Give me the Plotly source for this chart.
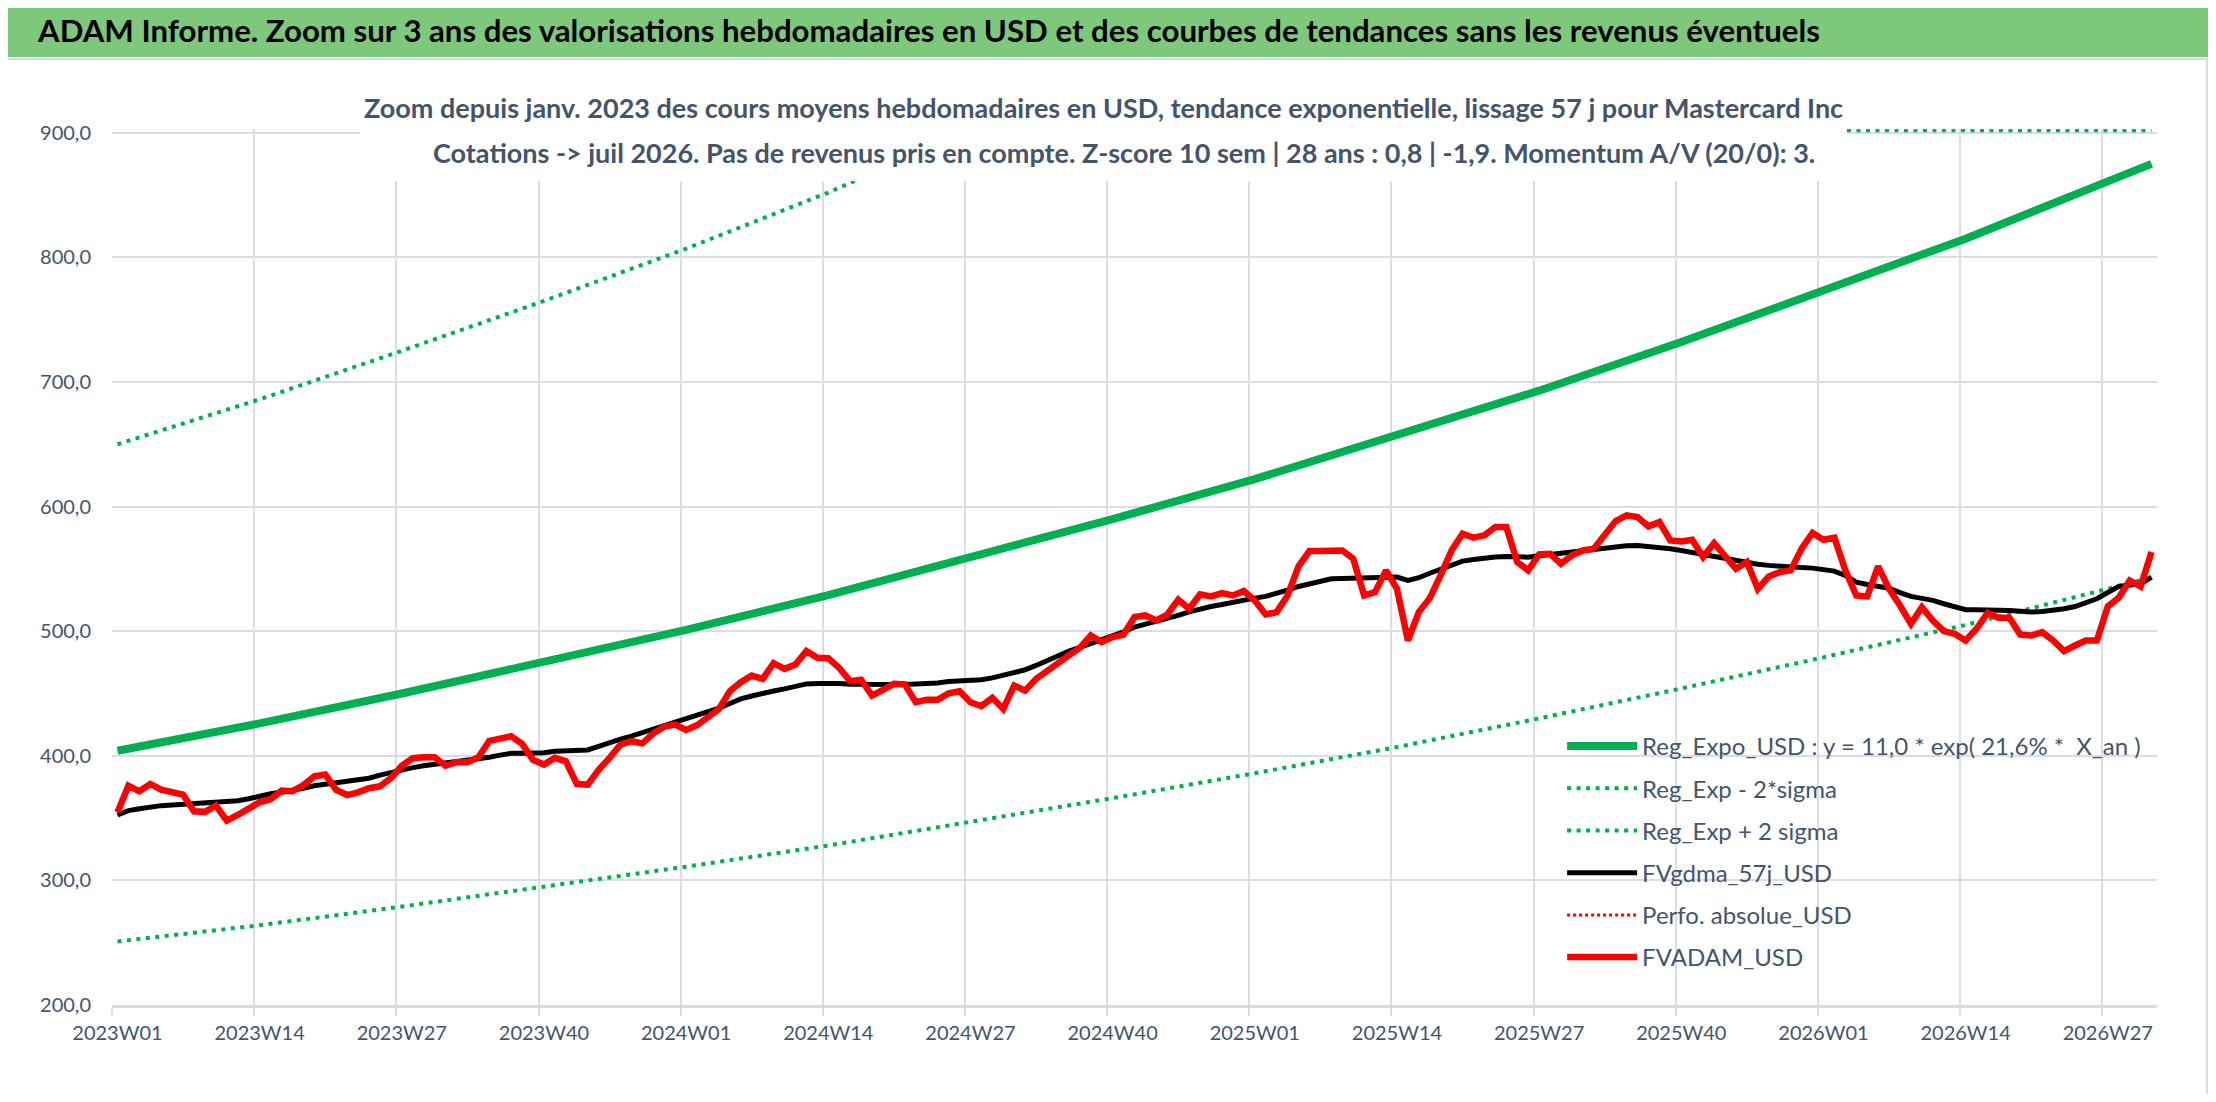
import plotly.graph_objects as go

# Weekly categories, 2023W01 -> 2026W31
weeks = [f"{y}W{w:02d}" for y in (2023, 2024, 2025) for w in range(1, 53)]
weeks += [f"2026W{w:02d}" for w in range(1, 32)]

# FVADAM_USD (weekly average price, red)
fvadam_usd = [
    354.6, 376, 371.5, 377.4, 372.8, 371, 368.8, 355.4, 355, 360,
    348, 352.5, 358, 362.7, 365, 372, 371.5, 376.6, 383.5, 385,
    372.6, 368.5, 370.7, 374, 375.5, 382, 392, 398, 398.8, 398.8,
    392, 394.8, 394.8, 398.8, 412, 414, 415.7, 409.5, 396.7, 393,
    398.3, 395.6, 377.4, 376.9, 388.7, 398.3, 409, 411.7, 410, 418,
    423.4, 425, 420.7, 424.5, 430.4, 437.6, 451.8, 459, 464.4, 461.7,
    474.3, 469.8, 473.3, 484, 478.6, 478.3, 470.5, 459.9, 461, 448.3,
    452.9, 457.7, 457.2, 443, 444.9, 444.9, 450.2, 451.8, 443, 439.8,
    446.5, 437.6, 456.4, 452.3, 461.7, 468.4, 475.1, 480.5, 486.6, 496.5,
    491.2, 495.2, 497.3, 511.3, 512.6, 508.6, 513.4, 525.2, 518, 529.5,
    527.9, 530.6, 528.7, 532.2, 524.7, 513.4, 515.3, 528.7, 552, 564.3,
    564.3, 564.8, 564.8, 558.1, 528.7, 531.4, 548.8, 534, 492.5, 515.3,
    526.5, 545, 564.8, 578.2, 575, 576.9, 583.6, 583.6, 555.5, 548.8,
    561.6, 562.1, 554.1, 560.8, 564.8, 566.2, 578.2, 588.4, 592.9, 591.6,
    584.1, 587.6, 572.8, 572, 573.4, 559.5, 570.7, 560, 550.1, 555.5,
    534, 543.9, 547.4, 548.8, 566.2, 578.8, 573.4, 575, 548.8, 528.7,
    527.9, 552, 534, 520.6, 505.9, 519.3, 508.6, 500, 497.9, 492.5,
    501.9, 514.5, 510.7, 510.7, 497.3, 496.5, 499.2, 492.5, 484, 488.5,
    492.5, 492.5, 519.8, 526.8, 540.7, 535.9, 563.5,
]

# FVgdma_57j_USD (57 day smoothing, black)
fvgdma_57j_usd = [
    352.5, 356, 357.5, 359, 360, 360.5, 361, 361.5, 362, 363,
    363.5, 364, 365.5, 368, 369.5, 370.7, 372, 374, 376, 377,
    378, 379, 380, 382, 384.5, 386.7, 388.5, 390.5, 392, 393,
    394, 395.2, 396.5, 397.7, 398.8, 400.5, 402, 402, 402, 402.5,
    403.6, 404, 404.3, 404.7, 407.5, 410.9, 413.3, 415.7, 418.5, 421.6,
    424.3, 427, 429.7, 432.3, 435.3, 438.2, 442, 445.7, 448, 450.3,
    452, 453.7, 455.7, 457.7, 458, 458.2, 458, 457.5, 457.2, 457.2,
    457.2, 457.2, 457.2, 457.4, 457.7, 458.5, 459.6, 459.8, 459.9, 461,
    462.5, 464.4, 466.5, 469, 472.5, 476.5, 480, 484, 487, 489.9,
    493, 495.8, 499.5, 503.3, 505.5, 507.3, 510, 512.6, 515.5, 518,
    519.8, 521.4, 523.3, 525.2, 526.5, 527.9, 530, 533, 535.9, 538,
    539.4, 542, 542.3, 542.6, 542.8, 542.9, 543.2, 543.4, 540.7, 542.9,
    546.5, 550, 553, 556.2, 557.5, 558.9, 559.5, 560, 559.7, 559.4,
    560.5, 561.6, 562.5, 563.5, 565, 566.2, 567.3, 568.3, 568.6, 568.8,
    568.2, 567.5, 566.2, 564.8, 563.2, 561.6, 560, 558.1, 556.3, 554.6,
    553.7, 552.8, 552, 551.4, 551, 550.6, 549.4, 548.2, 544.7, 539.4,
    537.5, 536, 534.5, 531, 527.9, 526.3, 524.7, 522, 519.3, 517.2,
    517.2, 517.2, 517, 516.6, 516, 515.3, 515.8, 516.6, 518, 519.8,
    522.5, 526, 531, 535.9, 537, 538, 543.4,
]

# Trend curves read at every 13th week plus the last week
trend_weeks = weeks[::13] + [weeks[-1]]
reg_expo_usd = [404, 426, 450, 475, 501, 529, 559, 590, 622, 657, 693, 732, 773, 815, 861, 875]
reg_minus_2sigma = [251, 264, 279, 295, 311, 328, 347, 366, 386, 407, 430, 454, 479, 505, 534, 543]
# upper band runs off the top of the axis and is drawn along it
reg_plus_2sigma = [650, 686, 725, 765, 807, 852, 902, 902, 902, 902, 902, 902, 902, 902, 902, 902]

# no visible points for this series
perfo_absolue_usd = [None]

FONT = "Lato, Liberation Sans, sans-serif"
GREEN = "#00B050"
GRID = "#D9DEE6"
TXT = "#44546A"
DOTS = "4px,5.5px"

fig = go.Figure()
fig.add_trace(go.Scatter(x=trend_weeks, y=reg_expo_usd, mode="lines",
                         name="Reg_Expo_USD : y = 11,0 * exp( 21,6% *  X_an )",
                         legendgroup="a", line=dict(color=GREEN, width=8)))
fig.add_trace(go.Scatter(x=trend_weeks, y=reg_minus_2sigma, mode="lines",
                         name="Reg_Exp - 2*sigma", legendgroup="b",
                         line=dict(color=GREEN, width=4, dash=DOTS)))
fig.add_trace(go.Scatter(x=trend_weeks, y=reg_plus_2sigma, mode="lines",
                         name="Reg_Exp + 2 sigma", legendgroup="c",
                         line=dict(color=GREEN, width=4, dash=DOTS)))
fig.add_trace(go.Scatter(x=weeks, y=fvgdma_57j_usd, mode="lines",
                         name="FVgdma_57j_USD", legendgroup="d",
                         line=dict(color="#000000", width=5)))
fig.add_trace(go.Scatter(x=weeks[:1], y=perfo_absolue_usd, mode="lines",
                         name="Perfo. absolue_USD", legendgroup="e",
                         line=dict(color="#FF0000", width=3, dash="3px,3px")))
fig.add_trace(go.Scatter(x=weeks, y=fvadam_usd, mode="lines",
                         name="FVADAM_USD", legendgroup="f",
                         line=dict(color="#FF0000", width=6.5)))

shapes = [
    # green title band
    dict(type="rect", xref="paper", yref="paper", x0=-0.06, x1=1.04, y0=1.0822, y1=1.16,
         fillcolor="#7DC87B", line=dict(width=0), layer="below"),
    # chart frame
    dict(type="rect", xref="paper", yref="paper", x0=-0.0538, x1=1.0244, y0=-0.105, y1=1.0799,
         line=dict(color="#D9D9D9", width=2), layer="below"),
    # white box behind the chart title
    dict(type="rect", xref="paper", yref="paper", x0=0.1213, x1=0.8484, y0=0.9406, y1=1.0559,
         fillcolor="white", line=dict(width=0), layer="above"),
]

annotations = [
    dict(text="ADAM Informe. Zoom sur 3 ans des valorisations hebdomadaires en USD et des courbes de tendances sans les revenus éventuels",
         xref="paper", yref="paper", x=-0.0377, y=1.1130, xanchor="left", yanchor="middle",
         showarrow=False, font=dict(family=FONT, size=31.2, color="#000000", weight="bold")),
    dict(text="Zoom depuis janv. 2023 des cours moyens hebdomadaires en USD, tendance exponentielle, lissage 57 j pour Mastercard Inc",
         xref="paper", yref="paper", x=0.4846, y=1.0240, xanchor="center", yanchor="middle",
         showarrow=False, font=dict(family=FONT, size=27, color=TXT, weight="bold")),
    dict(text="Cotations -> juil 2026. Pas de revenus pris en compte. Z-score 10 sem | 28 ans : 0,8 | -1,9. Momentum A/V (20/0): 3.",
         xref="paper", yref="paper", x=0.4949, y=0.9737, xanchor="center", yanchor="middle",
         showarrow=False, font=dict(family=FONT, size=27, color=TXT, weight="bold")),
]

# the page body adds an 8px offset, so the figure is 16px smaller
fig.update_layout(
    width=2200, height=1086, autosize=False,
    margin=dict(l=104, r=51, t=121, b=89),
    paper_bgcolor="white", plot_bgcolor="white",
    separators=", ",
    font=dict(family=FONT, size=20, color=TXT),
    shapes=shapes, annotations=annotations,
    showlegend=True,
    legend=dict(x=0.7091, y=0.3208, xanchor="left", yanchor="top",
                bgcolor="rgba(0,0,0,0)", font=dict(family=FONT, size=24, color=TXT),
                traceorder="grouped", tracegroupgap=8, itemwidth=70),
)
fig.update_xaxes(type="category", categoryorder="array", categoryarray=weeks,
                 range=[-0.5, 186.5], tickmode="linear", tick0=0, dtick=13,
                 tickson="boundaries", showgrid=True, gridcolor=GRID, gridwidth=1.5,
                 ticks="outside", ticklen=8, tickcolor=GRID, tickwidth=1.5,
                 ticklabelstandoff=8, tickangle=0,
                 showline=True, linecolor="#D9D9D9", linewidth=3,
                 tickfont=dict(family=FONT, size=20, color=TXT))
fig.update_yaxes(range=[200, 903], tickvals=[200, 300, 400, 500, 600, 700, 800, 900],
                 tickformat=".1f", showgrid=True, gridcolor=GRID, gridwidth=1.5,
                 zeroline=False, ticklabelstandoff=20,
                 tickfont=dict(family=FONT, size=20, color=TXT))

fig.write_html("out.html")
